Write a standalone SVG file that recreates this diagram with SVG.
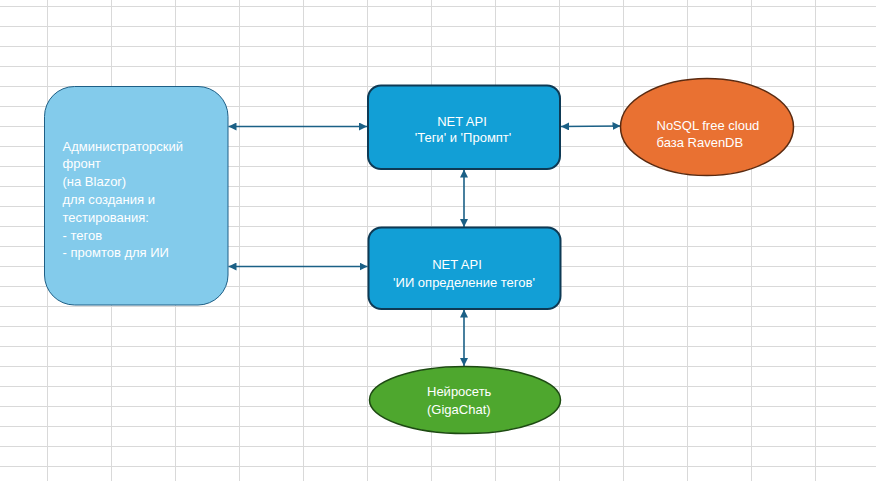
<svg xmlns="http://www.w3.org/2000/svg" width="876" height="481" viewBox="0 0 876 481">
<defs>
<style>
.grid line{stroke:#d9d9d9;stroke-width:1}
.t{font-family:"Liberation Sans",Arial,sans-serif;font-size:13px;fill:#ffffff}
.c{stroke:#1b6086;stroke-width:1.6;fill:none;marker-start:url(#ah);marker-end:url(#ah)}
</style>
<marker id="ah" viewBox="0 0 10 10" refX="10" refY="5" markerWidth="8" markerHeight="8" markerUnits="userSpaceOnUse" orient="auto-start-reverse">
<path d="M0,0 L10,5 L0,10 z" fill="#1b6086"/>
</marker>
</defs>
<rect width="876" height="481" fill="#ffffff"/>
<g class="grid">
<line x1="47.5" y1="0" x2="47.5" y2="481"/><line x1="111.5" y1="0" x2="111.5" y2="481"/><line x1="175.5" y1="0" x2="175.5" y2="481"/><line x1="239.5" y1="0" x2="239.5" y2="481"/><line x1="303.5" y1="0" x2="303.5" y2="481"/><line x1="367.5" y1="0" x2="367.5" y2="481"/><line x1="431.5" y1="0" x2="431.5" y2="481"/><line x1="495.5" y1="0" x2="495.5" y2="481"/><line x1="559.5" y1="0" x2="559.5" y2="481"/><line x1="623.5" y1="0" x2="623.5" y2="481"/><line x1="687.5" y1="0" x2="687.5" y2="481"/><line x1="751.5" y1="0" x2="751.5" y2="481"/><line x1="815.5" y1="0" x2="815.5" y2="481"/>
<line x1="0" y1="6.5" x2="876" y2="6.5"/><line x1="0" y1="26.5" x2="876" y2="26.5"/><line x1="0" y1="46.5" x2="876" y2="46.5"/><line x1="0" y1="66.5" x2="876" y2="66.5"/><line x1="0" y1="86.5" x2="876" y2="86.5"/><line x1="0" y1="106.5" x2="876" y2="106.5"/><line x1="0" y1="126.5" x2="876" y2="126.5"/><line x1="0" y1="146.5" x2="876" y2="146.5"/><line x1="0" y1="166.5" x2="876" y2="166.5"/><line x1="0" y1="186.5" x2="876" y2="186.5"/><line x1="0" y1="206.5" x2="876" y2="206.5"/><line x1="0" y1="226.5" x2="876" y2="226.5"/><line x1="0" y1="246.5" x2="876" y2="246.5"/><line x1="0" y1="266.5" x2="876" y2="266.5"/><line x1="0" y1="286.5" x2="876" y2="286.5"/><line x1="0" y1="306.5" x2="876" y2="306.5"/><line x1="0" y1="326.5" x2="876" y2="326.5"/><line x1="0" y1="346.5" x2="876" y2="346.5"/><line x1="0" y1="366.5" x2="876" y2="366.5"/><line x1="0" y1="386.5" x2="876" y2="386.5"/><line x1="0" y1="406.5" x2="876" y2="406.5"/><line x1="0" y1="426.5" x2="876" y2="426.5"/><line x1="0" y1="446.5" x2="876" y2="446.5"/><line x1="0" y1="466.5" x2="876" y2="466.5"/>
</g>
<g id="connectors">
<line class="c" x1="228.5" y1="126.5" x2="367" y2="126.5"/>
<line class="c" x1="228.5" y1="266.5" x2="367.5" y2="266.5"/>
<line class="c" x1="561" y1="126.5" x2="620.5" y2="126"/>
<line class="c" x1="464" y1="169.5" x2="464" y2="227"/>
<line class="c" x1="464" y1="309.5" x2="464" y2="366"/>
</g>
<g id="admin">
<rect x="44.5" y="86.5" width="183.5" height="218.5" rx="30" fill="#83cbeb" stroke="#1e5f86" stroke-width="1"/>
<text class="t" x="62.5"><tspan x="62.5" y="150.5">Администраторский</tspan><tspan x="62.5" y="168.3">фронт</tspan><tspan x="62.5" y="186.1">(на Blazor)</tspan><tspan x="62.5" y="203.9">для создания и</tspan><tspan x="62.5" y="221.7">тестирования:</tspan><tspan x="62.5" y="239.5">- тегов</tspan><tspan x="62.5" y="257.3">- промтов для ИИ</tspan></text>
</g>
<g id="api1">
<rect x="368" y="85.5" width="192" height="83.5" rx="13" fill="#129fd6" stroke="#0e3a55" stroke-width="2"/>
<text class="t" text-anchor="middle"><tspan x="462" y="126">NET API</tspan><tspan x="463" y="142">'Теги' и 'Промпт'</tspan></text>
</g>
<g id="api2">
<rect x="368.5" y="227.5" width="192" height="81.5" rx="13" fill="#129fd6" stroke="#0e3a55" stroke-width="2"/>
<text class="t" text-anchor="middle"><tspan x="457" y="269">NET API</tspan><tspan x="464" y="286.5">'ИИ определение тегов'</tspan></text>
</g>
<g id="db">
<ellipse cx="707" cy="127" rx="86.5" ry="48.5" fill="#e97132" stroke="#5a2a10" stroke-width="1.5"/>
<text class="t"><tspan x="656.5" y="130">NoSQL free cloud</tspan><tspan x="656.5" y="146.5">база RavenDB</tspan></text>
</g>
<g id="ai">
<ellipse cx="465" cy="400" rx="95.5" ry="33.5" fill="#4ea72e" stroke="#1d4a12" stroke-width="1.5"/>
<text class="t"><tspan x="427" y="396">Нейросеть</tspan><tspan x="427" y="414">(GigaChat)</tspan></text>
</g>
</svg>
